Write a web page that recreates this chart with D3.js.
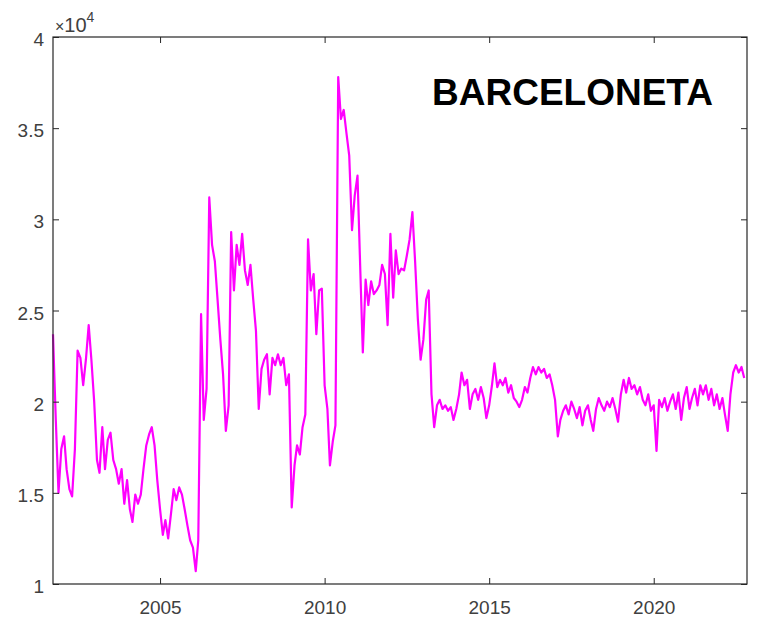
<!DOCTYPE html>
<html>
<head>
<meta charset="utf-8">
<script src="https://cdn.jsdelivr.net/npm/d3@7"></script>
<style>
  body { margin: 0; background: #fff; }
  svg { display: block; }
  .tick text { font-family: "Liberation Sans", Arial, sans-serif; font-size: 19px; fill: #404040; }
</style>
</head>
<body>
<svg width="757" height="628"></svg>
<script>
// monthly readings, first value = Oct 2001
const startMonth = new Date(2001, 9, 1);
const values = [
  23700, 19000, 15000, 17400, 18100, 16300, 15200, 14800, 17400, 22800, 22400, 20900,
  22300, 24200, 22300, 20000, 16800, 16100, 18600, 16300, 17900, 18300, 16800, 16300,
  15500, 16300, 14400, 15700, 14100, 13400, 14900, 14400, 14900, 16300, 17600, 18200,
  18600, 17600, 15700, 14100, 12700, 13500, 12500, 13800, 15200, 14600, 15300, 14900,
  14100, 13200, 12400, 12000, 10700, 12400, 24800, 19000, 20700, 31200, 28600, 27700,
  25600, 23400, 21500, 18400, 19800, 29300, 26100, 28600, 27500, 29200, 27200, 26400,
  27500, 25600, 23900, 19600, 21800, 22300, 22600, 20400, 22400, 22000, 22600, 22000,
  22400, 20900, 21500, 14200, 16500, 17600, 17100, 18600, 19300, 28900, 26100, 27000,
  23700, 26100, 26200, 20900, 19600, 16500, 17800, 18700, 37800, 35500, 36000, 34700,
  33500, 29400, 31300, 32400, 27200, 22700, 26700, 25300, 26600, 25900, 26100, 26400,
  27500, 27000, 24200, 29200, 25700, 28300, 27000, 27300, 27200, 28000, 28900, 30400,
  27700, 24500, 22300, 23400, 25600, 26100, 20400, 18600, 19800, 20100, 19600, 19800,
  19500, 19700, 19000, 19600, 20400, 21600, 20900, 21200, 19600, 20400, 20700, 20100,
  20800, 20200, 19100, 19800, 20900, 22100, 20800, 21200, 20900, 21300, 20500, 20900,
  20200, 20000, 19700, 20100, 20800, 20500, 21300, 21900, 21500, 21900, 21600, 21800,
  21300, 21500, 20900, 20100, 18100, 19000, 19500, 19800, 19300, 20000, 19600, 19100,
  19700, 18700, 19500, 19800, 19000, 18400, 19600, 20200, 19800, 19500, 20000, 19700,
  20200, 19600, 18900, 20400, 21200, 20500, 21300, 20700, 20900, 20400, 20800, 20100,
  19800, 20400, 19500, 19800, 17300, 20100, 19700, 20200, 19500, 20000, 20400, 19600,
  20500, 19000, 20200, 20800, 19600, 20200, 20700, 19800, 20900, 20400, 20900, 20100,
  20700, 19800, 20400, 19600, 20200, 19300, 18400, 20400, 21600, 22000, 21600, 21900,
  21300
];
const yTicks = [10000, 15000, 20000, 25000, 30000, 35000, 40000];
const xTickYears = [2005, 2010, 2015, 2020];
const title = 'BARCELONETA';

const data = values.map((v, i) => ({ date: d3.timeMonth.offset(startMonth, i), value: v }));

const svg = d3.select('svg');
const plotLeft = 53, plotRight = 747, plotTop = 37, plotBottom = 584;

const x = d3.scaleTime()
  .domain([new Date(2001, 9, 1), new Date(2022, 10, 1)])
  .range([plotLeft, plotRight]);
const y = d3.scaleLinear()
  .domain([10000, 40000])
  .range([plotBottom, plotTop]);

const xTicks = xTickYears.map(yr => new Date(yr, 0, 1));

// line first, axes drawn over it
const line = d3.line()
  .x(d => x(d.date))
  .y(d => y(d.value));

svg.append('path')
  .datum(data)
  .attr('d', line)
  .attr('fill', 'none')
  .attr('stroke', '#ff00ff')
  .attr('stroke-width', 2.2)
  .attr('stroke-linejoin', 'round');

svg.append('g')
  .attr('transform', `translate(0,${plotBottom})`)
  .call(d3.axisBottom(x).tickValues(xTicks).tickFormat(d3.timeFormat('%Y'))
    .tickSizeInner(-6).tickSizeOuter(0).tickPadding(17));

svg.append('g')
  .attr('transform', `translate(0,${plotTop})`)
  .call(d3.axisTop(x).tickValues(xTicks).tickFormat('')
    .tickSizeInner(-6).tickSizeOuter(0));

const yAxis = svg.append('g')
  .attr('transform', `translate(${plotLeft},0)`)
  .call(d3.axisLeft(y).tickValues(yTicks).tickFormat(d => d / 10000)
    .tickSizeInner(-6).tickSizeOuter(0).tickPadding(9));
yAxis.selectAll('text').attr('dy', '0.45em');

svg.append('g')
  .attr('transform', `translate(${plotRight},0)`)
  .call(d3.axisRight(y).tickValues(yTicks).tickFormat('')
    .tickSizeInner(-6).tickSizeOuter(0));

svg.selectAll('.domain').remove();
svg.selectAll('.tick line').attr('stroke', '#262626');

svg.append('rect')
  .attr('x', plotLeft).attr('y', plotTop)
  .attr('width', plotRight - plotLeft).attr('height', plotBottom - plotTop)
  .attr('fill', 'none')
  .attr('stroke', '#262626')
  .attr('stroke-width', 1.2);

// exponent label
const expo = svg.append('text')
  .attr('x', 55).attr('y', 32)
  .style('font-family', '"Liberation Sans", Arial, sans-serif')
  .style('font-size', '20px')
  .attr('fill', '#404040');
expo.append('tspan').style('font-size', '16px').text('\u00d7');
expo.append('tspan').text('10');
expo.append('tspan').attr('dy', -10).style('font-size', '14px').text('4');

svg.append('text')
  .attr('x', 432).attr('y', 105)
  .style('font-family', '"Liberation Sans", Arial, sans-serif')
  .style('font-size', '37px')
  .style('font-weight', 'bold')
  .attr('fill', '#000')
  .text(title);
</script>
</body>
</html>
